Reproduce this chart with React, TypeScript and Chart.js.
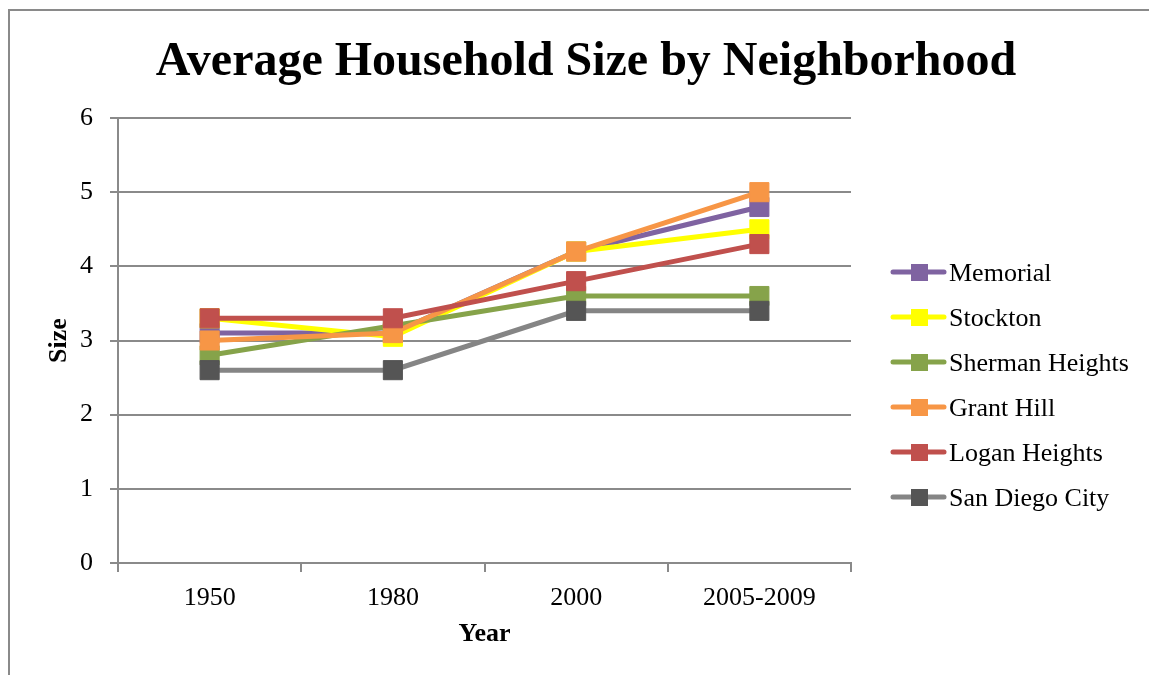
import React, { useEffect, useRef } from "react";
import { Chart, registerables } from "chart.js";

Chart.register(...registerables);

const TITLE = "Average Household Size by Neighborhood";
const X_TITLE = "Year";
const Y_TITLE = "Size";
const categories = ["1950", "1980", "2000", "2005-2009"];
const seriesNames = ["Memorial", "Stockton", "Sherman Heights", "Grant Hill", "Logan Heights", "San Diego City"];
const memorial = [3.1, 3.1, 4.2, 4.8];
const stockton = [3.3, 3.05, 4.2, 4.5];
const shermanHeights = [2.8, 3.2, 3.6, 3.6];
const grantHill = [3.0, 3.1, 4.2, 5.0];
const loganHeights = [3.3, 3.3, 3.8, 4.3];
const sanDiegoCity = [2.6, 2.6, 3.4, 3.4];
const seriesValues = [memorial, stockton, shermanHeights, grantHill, loganHeights, sanDiegoCity];
const lineColors = ["#7F63A1", "#FFFF00", "#86A34A", "#F79646", "#C0504D", "#858585"];
const markerColors = ["#7F63A1", "#FFFF00", "#86A34A", "#F79646", "#C0504D", "#555555"];
const yMin = 0;
const yMax = 6;
const yStep = 1;

const FONT = "'Liberation Serif', 'Times New Roman', serif";

const decorPlugin = {
  id: "decor",
  beforeDraw(chart: any) {
    const ctx = chart.ctx;
    ctx.save();
    ctx.fillStyle = "#ffffff";
    ctx.fillRect(0, 0, chart.width, chart.height);
    ctx.strokeStyle = "#8a8a8a";
    ctx.lineWidth = 2;
    ctx.strokeRect(9, 10, chart.width + 20, chart.height + 20);
    ctx.restore();
  },
  afterDraw(chart: any) {
    const ctx = chart.ctx;
    ctx.save();
    // title
    ctx.fillStyle = "#000000";
    ctx.font = `bold 48px ${FONT}`;
    ctx.textAlign = "center";
    ctx.textBaseline = "alphabetic";
    ctx.fillText(TITLE, 586, 75);
    // legend
    const ds = chart.data.datasets;
    ds.forEach((d: any, i: number) => {
      const cy = 272 + i * 45;
      ctx.strokeStyle = d.borderColor;
      ctx.lineWidth = 5;
      ctx.lineCap = "round";
      ctx.beginPath();
      ctx.moveTo(893, cy);
      ctx.lineTo(944, cy);
      ctx.stroke();
      ctx.fillStyle = d.pointBackgroundColor;
      ctx.fillRect(911, cy - 8, 17, 17);
      ctx.fillStyle = "#000000";
      ctx.font = `26px ${FONT}`;
      ctx.textAlign = "left";
      ctx.textBaseline = "alphabetic";
      ctx.fillText(d.label, 949, cy + 9);
    });
    ctx.restore();
  },
};

export default function App() {
  const ref = useRef<HTMLCanvasElement | null>(null);
  useEffect(() => {
    if (!ref.current) return;
    const n = seriesNames.length;
    const chart = new Chart(ref.current, {
      type: "line",
      data: {
        labels: categories,
        datasets: seriesNames.map((name, i) => ({
          label: name,
          data: seriesValues[i],
          borderColor: lineColors[i],
          backgroundColor: markerColors[i],
          pointBackgroundColor: markerColors[i],
          pointBorderColor: markerColors[i],
          pointStyle: "rect",
          pointRadius: 13.5,
          pointBorderWidth: 1,
          borderWidth: 5,
          tension: 0,
          order: n - 1 - i,
        })),
      },
      options: {
        animation: false,
        responsive: false,
        devicePixelRatio: 1,
        layout: { padding: { top: 118, left: 20, right: 298, bottom: 24 } },
        plugins: {
          legend: { display: false },
          title: { display: false },
          tooltip: { enabled: false },
        },
        scales: {
          x: {
            offset: true,
            grid: {
              offset: true,
              drawOnChartArea: false,
              drawTicks: true,
              tickLength: 9,
              color: "#8a8a8a",
              lineWidth: 2,
            },
            border: { color: "#8a8a8a", width: 2 },
            ticks: { color: "#000", font: { family: FONT, size: 26 }, padding: 11 },
            title: {
              display: true,
              text: X_TITLE,
              color: "#000",
              font: { family: FONT, size: 26, weight: "bold" },
              padding: { top: 0, bottom: 1 },
            },
            afterFit(scale: any) {
              scale.height = 88;
            },
          },
          y: {
            min: yMin,
            max: yMax,
            ticks: {
              stepSize: yStep,
              color: "#000",
              font: { family: FONT, size: 26 },
              padding: 17,
            },
            grid: {
              color: "#8a8a8a",
              lineWidth: 2,
              tickLength: 8,
            },
            border: { color: "#8a8a8a", width: 2 },
            title: {
              display: true,
              text: Y_TITLE,
              color: "#000",
              font: { family: FONT, size: 26, weight: "bold" },
              padding: { top: 24, bottom: 0 },
            },
            afterFit(scale: any) {
              scale.width = 98;
            },
          },
        },
      },
      plugins: [decorPlugin],
    } as any);
    return () => chart.destroy();
  }, []);
  return (
    <div style={{ position: "absolute", left: 0, top: 0, width: 1149, height: 675, background: "#fff" }}>
      <canvas ref={ref} width={1149} height={675} style={{ display: "block" }} />
    </div>
  );
}
